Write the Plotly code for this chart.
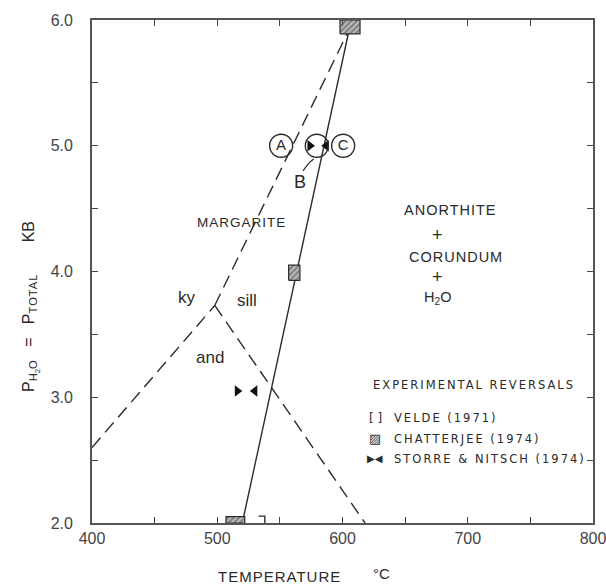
import plotly.graph_objects as go

# ---------------- data (T in degC, P in kbar) ----------------
# phase boundaries
and_ky_T = [400, 498]
and_ky_P = [2.60, 3.73]
ky_sill_T = [498, 609]          # dashed, continues through margarite field
ky_sill_P = [3.73, 6.0]
and_sill_T = [498, 618]
and_sill_P = [3.73, 2.0]
marg_T = [520, 607]             # solid margarite breakdown curve
marg_P = [2.0, 6.0]

# Chatterjee (1974) reversal boxes: (Tlow, Thigh, Plow, Phigh)
chatterjee_boxes = [(598, 614, 5.89, 6.0), (557, 566, 3.93, 4.05), (507, 522, 2.0, 2.05)]

# Storre & Nitsch (1974) reversals
storre_right_T = [516, 574]
storre_right_P = [3.05, 5.0]
storre_left_T = [530, 587]
storre_left_P = [3.05, 5.0]

# Velde (1971) bracket
velde_T = [533, 538, 538]
velde_P = [2.055, 2.055, 2.0]

# circled curve labels
circle_labels = ["A", "", "C"]
circle_T = [551, 579.5, 600.5]
circle_P = [5.0, 5.0, 5.0]

# leader from B to its circle
leader_T = [568.5, 573, 577]
leader_P = [4.80, 4.86, 4.895]

x_ticks = [400, 450, 500, 550, 600, 650, 700, 750, 800]
x_ticktext = ["400", "", "500", "", "600", "", "700", "", "800"]
y_ticks = [2.0, 2.5, 3.0, 3.5, 4.0, 4.5, 5.0, 5.5, 6.0]
y_ticktext = ["2.0", "", "3.0", "", "4.0", "", "5.0", "", "6.0"]

INK = "#2a2a2a"
FONT = "Liberation Sans, Arial, sans-serif"


def sp(text, px):
    return f'<span style="letter-spacing:{px}px">{text}</span>'


fig = go.Figure()

dash = "13px,7px"
for tx, py in [(and_ky_T, and_ky_P), (ky_sill_T, ky_sill_P), (and_sill_T, and_sill_P)]:
    fig.add_trace(go.Scatter(x=tx, y=py, mode="lines",
                             line=dict(color=INK, width=1.4, dash=dash), hoverinfo="skip"))
fig.add_trace(go.Scatter(x=marg_T, y=marg_P, mode="lines",
                         line=dict(color=INK, width=1.4), hoverinfo="skip"))

for (t0, t1, p0, p1) in chatterjee_boxes:
    fig.add_trace(go.Scatter(x=[t0, t1, t1, t0, t0], y=[p0, p0, p1, p1, p0], mode="lines",
                             fill="toself", line=dict(color=INK, width=1.2),
                             fillcolor="white",
                             fillpattern=dict(shape="/", size=4, solidity=0.45,
                                              fgcolor="#333", bgcolor="#bbb"),
                             hoverinfo="skip"))

fig.add_trace(go.Scatter(x=velde_T, y=velde_P, mode="lines",
                         line=dict(color=INK, width=1.4), hoverinfo="skip"))

fig.add_trace(go.Scatter(x=storre_right_T, y=storre_right_P, mode="markers",
                         marker=dict(symbol="triangle-right", size=10, color="#111"),
                         hoverinfo="skip"))
fig.add_trace(go.Scatter(x=storre_left_T, y=storre_left_P, mode="markers",
                         marker=dict(symbol="triangle-left", size=10, color="#111"),
                         hoverinfo="skip"))

fig.add_trace(go.Scatter(x=circle_T, y=circle_P, mode="markers+text", text=circle_labels,
                         textposition="middle center",
                         textfont=dict(family=FONT, size=15, color=INK),
                         marker=dict(symbol="circle-open", size=23,
                                     line=dict(color=INK, width=1.4), color=INK),
                         hoverinfo="skip"))

fig.add_trace(go.Scatter(x=leader_T, y=leader_P, mode="lines", line_shape="spline",
                         line=dict(color=INK, width=1.2), hoverinfo="skip"))

ann = []


def A(x, y, text, size=14, xanchor="center", spacing=0):
    t = sp(text, spacing) if spacing else text
    ann.append(dict(x=x, y=y, xref="x", yref="y", text=t, showarrow=False,
                    xanchor=xanchor, yanchor="middle",
                    font=dict(family=FONT, size=size, color=INK)))


A(566, 4.71, "B", size=18)
A(519, 4.39, "MARGARITE", size=13.5, spacing=1)
A(686.6, 4.49, "ANORTHITE", size=14.5, spacing=1)
A(676, 4.29, "+", size=18)
A(690.6, 4.115, "CORUNDUM", size=14.5, spacing=1)
A(676, 3.96, "+", size=18)
A(675.5, 3.79, "H<sub>2</sub>O", size=14.5)
A(475.8, 3.79, "ky", size=17)
A(523.8, 3.77, "sill", size=17)
A(494.2, 3.32, "and", size=17)

LEG = "DejaVu Sans, sans-serif"


def L(x, y, text, size=11.5, xanchor="left", spacing=2):
    t = sp(text, spacing) if spacing else text
    ann.append(dict(x=x, y=y, xref="x", yref="y", text=t, showarrow=False,
                    xanchor=xanchor, yanchor="middle",
                    font=dict(family=LEG, size=size, color=INK)))


L(787.2, 3.10, "EXPERIMENTAL REVERSALS", xanchor="right")
L(626, 2.835, "[ ]", size=12, xanchor="center", spacing=0)
L(639.5, 2.835, "VELDE (1971)")
L(626, 2.67, "▨", size=13, xanchor="center", spacing=0)
L(639.5, 2.67, "CHATTERJEE (1974)")
L(626, 2.51, "▶◀", size=10, xanchor="center", spacing=0)
L(639.5, 2.51, "STORRE &amp; NITSCH (1974)")

# axis titles
ann.append(dict(x=(279 - 92) / 501, y=(523 - 576) / 503, xref="paper", yref="paper",
                text=sp("TEMPERATURE", 1), showarrow=False, xanchor="center", yanchor="middle",
                font=dict(family=FONT, size=15, color=INK)))
ann.append(dict(x=(381 - 92) / 501, y=(523 - 573) / 503, xref="paper", yref="paper",
                text="°C", showarrow=False, xanchor="center", yanchor="middle",
                font=dict(family=FONT, size=15, color=INK)))
ann.append(dict(x=(31 - 92) / 501, y=(523 - 307) / 503, xref="paper", yref="paper",
                text=("P<sub>H<sub>2</sub>O</sub>   =   P<sub>" + sp("TOTAL", 1) +
                      "</sub>       KB"),
                textangle=-90,
                showarrow=False, xanchor="center", yanchor="middle",
                font=dict(family=FONT, size=16, color=INK)))

fig.update_layout(
    width=606, height=587, margin=dict(l=92, r=13, t=20, b=64, autoexpand=False),
    paper_bgcolor="white", plot_bgcolor="white", showlegend=False,
    annotations=ann,
    xaxis=dict(range=[400, 800], tickvals=x_ticks, ticktext=x_ticktext,
               ticks="inside", ticklen=6, tickcolor="#444", tickwidth=1.2,
               showline=True, linecolor="#555", linewidth=1.8, mirror="allticks",
               showgrid=False, zeroline=False, ticklabeloverflow="allow",
               automargin=False,
               tickfont=dict(family=FONT, size=16, color="#444")),
    yaxis=dict(range=[2, 6], tickvals=y_ticks, ticktext=y_ticktext,
               ticks="inside", ticklen=6, tickcolor="#444", tickwidth=1.2,
               showline=True, linecolor="#555", linewidth=1.8, mirror="allticks",
               showgrid=False, zeroline=False, ticklabelstandoff=14,
               ticklabeloverflow="allow", automargin=False,
               tickfont=dict(family=FONT, size=16, color="#444")),
)

fig.write_html("out.html")
